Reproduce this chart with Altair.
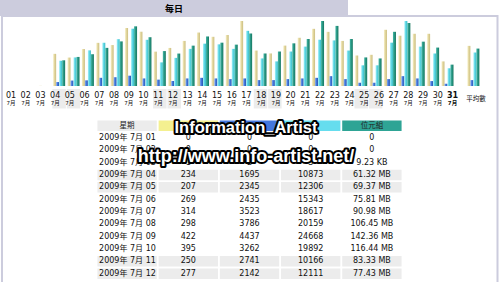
import datetime
import altair as alt
import pandas as pd

# ---------------- data ----------------
days = list(range(1, 32))
visits = [0, 0, 1, 234, 207, 269, 314, 298, 422, 395, 250, 277,
          328, 389, 358, 371, 473, 258, 237, 294, 351, 416, 394, 328,
          222, 227, 409, 366, 380, 380, 179]
pages = [0, 0, 2, 1695, 2345, 2435, 3523, 3786, 4437, 3262, 2741, 2142,
         3260, 3520, 3260, 2970, 3260, 2540, 2540, 2970, 3260, 3520, 4240, 2970,
         1400, 1400, 2970, 4240, 3260, 2120, 975]
hits = [0, 0, 3, 10873, 12306, 15343, 18617, 20159, 24668, 19892, 10166, 12111,
        15985, 18230, 17935, 15985, 23744, 11870, 10600, 14840, 16960, 19930, 19630, 15264,
        8904, 8904, 18656, 27984, 16960, 13992, 7632]
bytes_mb = [0, 0, 0.009, 61.32, 69.37, 75.81, 90.98, 106.45, 142.36, 116.44, 83.33, 77.43,
            96.3, 118.2, 103.4, 98.7, 125.3, 77.6, 82.3, 101.8, 112.1, 155.1, 143.4, 112.1,
            68.2, 65.8, 129.3, 150.4, 105.8, 91.7, 51.0]
avg_visits = [292]
avg_pages = [2540]
avg_hits = [14416]
avg_bytes = [89.3]
avg_label = "平均數"
month_label = "7月"
title_text = "每日"
table_header = ["星期", "", "", "", "位元組"]
table_bytes = ["0", "0", "9.23 KB", "61.32 MB", "69.37 MB", "75.81 MB", "90.98 MB",
               "106.45 MB", "142.36 MB", "116.44 MB", "83.33 MB", "77.43 MB"]
table_days = 12
watermark1 = "Information_Artist"
watermark2 = "http://www.info-artist.net/"

# ---------------- layout constants ----------------
AVG_SLOT = 32.8
FONT = "DejaVu Sans, Noto Sans CJK TC"
WM_FONT = "Liberation Sans"
C_TITLE = "#CCCCDD"
C_ROW = "#ECECEC"
C_V, C_P, C_H, C_K = "#F4F090", "#4477DD", "#66DDEE", "#2EA495"


def grad(a, b, c):
    return alt.LinearGradient(
        gradient="linear", x1=0, x2=1, y1=0, y2=0,
        stops=[alt.GradientStop(color=a, offset=0),
               alt.GradientStop(color=b, offset=0.45),
               alt.GradientStop(color=c, offset=1)])


bars = pd.DataFrame({
    "slot": days + [AVG_SLOT],
    "visits": visits + avg_visits,
    "pages": pages + avg_pages,
    "hits": hits + avg_hits,
    "bytes": bytes_mb + avg_bytes,
})

labels = pd.DataFrame({
    "slot": days,
    "num": [f"{d:02d}" for d in days],
    "month": [month_label] * len(days),
    "weekend": [datetime.date(2009, 7, d).weekday() >= 5 for d in days],
    "today": [d == days[-1] for d in days],
})

X = alt.X("slot:Q", scale=alt.Scale(domain=[1, 31], range=[11, 452.5]), axis=None)
BASE = 87
TOP = 21


def ylin(field, dmax):
    return alt.Y(f"{field}:Q", scale=alt.Scale(domain=[0, dmax], range=[BASE - 1, TOP]), axis=None)


hmax = max(hits)
bar_layers = [
    alt.Chart(bars).mark_bar(width=3, xOffset=-4.5, color=grad("#F7F0C8", "#E2D69E", "#CBBE80"))
    .encode(x=X, y=ylin("visits", max(visits)), y2=alt.value(BASE)),
    alt.Chart(bars).mark_bar(width=3, xOffset=-1.5, color=grad("#86ABEC", "#4477DD", "#2A55AE"))
    .encode(x=X, y=ylin("pages", hmax), y2=alt.value(BASE)),
    alt.Chart(bars).mark_bar(width=3, xOffset=1.5, color=grad("#A8F1F7", "#62D8E6", "#38BAC6"))
    .encode(x=X, y=ylin("hits", hmax), y2=alt.value(BASE)),
    alt.Chart(bars).mark_bar(width=3, xOffset=4.5, color=grad("#47B9A6", "#2A9886", "#16775F"))
    .encode(x=X, y=ylin("bytes", max(bytes_mb)), y2=alt.value(BASE)),
]

weekend_bg = alt.Chart(labels).transform_filter("datum.weekend").mark_bar(
    orient="vertical", width=13.5, color=C_ROW
).encode(x=X, y=alt.value(89), y2=alt.value(108.5))

num_txt = alt.Chart(labels).transform_filter("!datum.today").mark_text(
    font=FONT, fontSize=8, color="#111", baseline="middle"
).encode(x=X, y=alt.value(96), text="num:N")
mon_txt = alt.Chart(labels).transform_filter("!datum.today").mark_text(
    font=FONT, fontSize=5.5, color="#111", baseline="middle"
).encode(x=X, y=alt.value(102.6), text="month:N")
num_today = alt.Chart(labels).transform_filter("datum.today").mark_text(
    font=FONT, fontSize=8, fontWeight="bold", color="#111", baseline="middle"
).encode(x=X, y=alt.value(96), text="num:N")
mon_today = alt.Chart(labels).transform_filter("datum.today").mark_text(
    font=FONT, fontSize=5.5, fontWeight="bold", color="#111", baseline="middle"
).encode(x=X, y=alt.value(102.6), text="month:N")
avg_txt = alt.Chart(pd.DataFrame({"slot": [AVG_SLOT], "t": [avg_label]})).mark_text(
    font=FONT, fontSize=6.5, color="#111", baseline="middle", dx=-3
).encode(x=X, y=alt.value(99), text="t:N")

# ---------------- frame ----------------
frame_df = pd.DataFrame({"k": [0]})
title_bg = alt.Chart(frame_df).mark_rect(color=C_TITLE).encode(
    x=alt.value(0), x2=alt.value(348), y=alt.value(0), y2=alt.value(16))
title_txt = alt.Chart(pd.DataFrame({"t": [title_text]})).mark_text(
    font=FONT, fontSize=9, fontWeight="bold", color="#000", baseline="middle"
).encode(x=alt.value(174), y=alt.value(9), text="t:N")
box = alt.Chart(frame_df).mark_rect(fill="transparent", stroke=C_TITLE, strokeWidth=2).encode(
    x=alt.value(2), x2=alt.value(497.5), y=alt.value(16), y2=alt.value(300))

# ---------------- table ----------------
cols = ["date", "visits", "pages", "hits", "bytes"]
row_keys = ["h"] + [f"{d:02d}" for d in days[:table_days]]
TX = alt.X("col:N", scale=alt.Scale(domain=cols, range=[96.5, 402.5], paddingInner=0.03,
                                    paddingOuter=0.015), axis=None)
TY = alt.Y("row:N", scale=alt.Scale(domain=row_keys, range=[119.5, 279.8], paddingInner=0.15,
                                    paddingOuter=0.075), axis=None)

cells = []
head_colors = [C_ROW, C_V, C_P, C_H, C_K]
for c, colr in zip(cols, head_colors):
    cells.append({"row": "h", "col": c, "fill": colr})
for d in days[:table_days]:
    if datetime.date(2009, 7, d).weekday() >= 5:
        for c in cols:
            cells.append({"row": f"{d:02d}", "col": c, "fill": C_ROW})
cells_df = pd.DataFrame(cells)
cell_rects = alt.Chart(cells_df).mark_rect().encode(
    x=TX, y=TY, color=alt.Color("fill:N", scale=None))

head_df = pd.DataFrame({"row": ["h"] * 5, "col": cols, "t": table_header})
head_txt = alt.Chart(head_df).transform_filter("datum.t != ''").mark_text(
    font=FONT, fontSize=7.5, color="#222", baseline="middle"
).encode(x=TX, y=TY, text="t:N")

date_df = pd.DataFrame({
    "row": [f"{d:02d}" for d in days[:table_days]],
    "col": ["date"] * table_days,
    "t": [f"2009年 7月 {d:02d}" for d in days[:table_days]],
})
date_txt = alt.Chart(date_df).mark_text(
    font=FONT, fontSize=8, color="#111", baseline="middle", align="left", dx=-28
).encode(x=TX, y=TY, text="t:N")

vals = []
for i, d in enumerate(days[:table_days]):
    rk = f"{d:02d}"
    vals.append({"row": rk, "col": "visits", "t": str(visits[i])})
    vals.append({"row": rk, "col": "pages", "t": str(pages[i])})
    vals.append({"row": rk, "col": "hits", "t": str(hits[i])})
    vals.append({"row": rk, "col": "bytes", "t": table_bytes[i]})
vals_df = pd.DataFrame(vals)
val_txt = alt.Chart(vals_df).mark_text(
    font=FONT, fontSize=8, color="#111", baseline="middle"
).encode(x=TX, y=TY, text="t:N")


# ---------------- watermark ----------------
def wm(text, y, size):
    d = pd.DataFrame({"t": [text]})
    outline = alt.Chart(d).mark_text(
        font=WM_FONT, fontSize=size, fontWeight="bold", color="#000", stroke="#000",
        strokeWidth=4, strokeJoin="round", baseline="middle"
    ).encode(x=alt.value(246), y=alt.value(y), text="t:N")
    fill = alt.Chart(d).mark_text(
        font=WM_FONT, fontSize=size, fontWeight="bold", color="#FFFFFF", baseline="middle"
    ).encode(x=alt.value(246), y=alt.value(y), text="t:N")
    return [outline, fill]


layers = ([title_bg, box, title_txt, weekend_bg] + bar_layers +
          [num_txt, mon_txt, num_today, mon_today, avg_txt,
           cell_rects, head_txt, date_txt, val_txt] +
          wm(watermark1, 128, 16.5) + wm(watermark2, 157, 18))

chart = alt.layer(*layers).resolve_scale(
    x="independent", y="independent", color="independent"
).properties(
    width=500, height=282, padding=0,
    autosize=alt.AutoSizeParams(type="none"),
    background="white",
).configure_view(stroke="transparent")

chart.save("out.html", embed_options={"renderer": "svg", "actions": False})
